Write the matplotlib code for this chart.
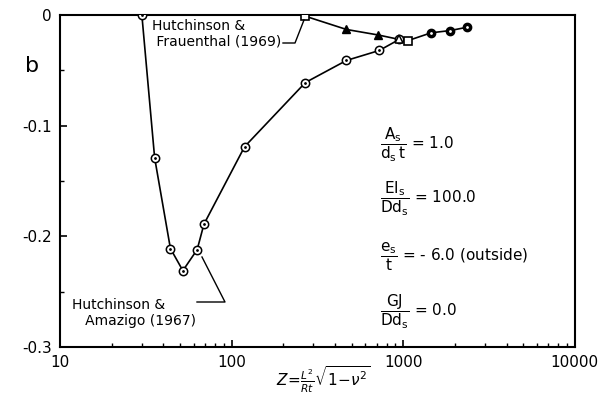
import matplotlib
matplotlib.use("Agg")
import matplotlib.pyplot as plt
import numpy as np

# Hutchinson & Amazigo (1967) branch, open circles
z_ham = [30, 35.6, 44, 52, 63, 69, 119, 269, 467, 725, 948]
b_ham = [0.0, -0.129, -0.211, -0.231, -0.212, -0.189, -0.119, -0.061, -0.041, -0.032, -0.022]

# Hutchinson & Frauenthal (1969) branch
z_hf = [269, 467, 716, 948, 1069]
b_hf = [-0.001, -0.013, -0.018, -0.022, -0.023]

# shared tail
z_tail = [1069, 1456, 1875, 2356]
b_tail = [-0.023, -0.016, -0.014, -0.011]

xticks = [10, 100, 1000, 10000]
xticklabels = ["10", "100", "1000", "10000"]
yticks = [0, -0.1, -0.2, -0.3]
yticklabels = ["0", "-0.1", "-0.2", "-0.3"]

W, H = 600, 397


def fx(px):
    return px / W


def fy(py):
    return 1 - py / H


plt.rcParams['font.family'] = ['DejaVu Sans']
plt.rcParams['mathtext.fontset'] = 'dejavusans'
fig = plt.figure(figsize=(6.0, 3.97), dpi=100)
ax = fig.add_axes([0.1, 0.126, 0.858, 0.836])

lw = 1.2
ax.plot(z_ham, b_ham, '-', color='black', lw=lw, zorder=2)
ax.plot(z_hf, b_hf, '-', color='black', lw=lw, zorder=2)
ax.plot(z_tail, b_tail, '-', color='black', lw=lw, zorder=2)

# circle markers with centre dot
ax.plot(z_ham, b_ham, 'o', ms=6, mfc='white', mec='black', mew=1.1, zorder=3)
ax.plot(z_ham, b_ham, '.', ms=2, color='black', zorder=4)
# Frauenthal markers
ax.plot(z_hf[0], b_hf[0], 's', ms=6, mfc='white', mec='black', mew=1.2, zorder=3)
ax.plot(z_hf[1:3], b_hf[1:3], '^', ms=6, mfc='black', mec='black', zorder=3)
ax.plot(z_hf[3], b_hf[3], '^', ms=6, mfc='white', mec='black', mew=1.1, zorder=5)
ax.plot(z_hf[4], b_hf[4], 's', ms=6, mfc='white', mec='black', mew=1.2, zorder=3)
ax.plot(z_tail[1:], b_tail[1:], 'o', ms=6, mfc='black', mec='black', zorder=3)
ax.plot(z_tail[1:], b_tail[1:], '.', ms=2, color='white', zorder=4)

ax.set_xscale('log')
ax.set_xlim(10, 10000)
ax.set_ylim(-0.3, 0)
ax.set_xticks(xticks)
ax.set_xticklabels(xticklabels)
ax.set_yticks(yticks)
ax.set_yticklabels(yticklabels)
ax.set_yticks([-0.05, -0.15, -0.25], minor=True)
ax.tick_params(axis='both', which='major', direction='in', length=5, width=1.2,
               labelsize=11, pad=6)
ax.tick_params(axis='both', which='minor', direction='in', length=3, width=1.0)
ax.tick_params(top=False, right=False, which='both')
for sp in ax.spines.values():
    sp.set_linewidth(1.5)

fig.text(fx(32), fy(66), 'b', fontsize=16, ha='center', va='center')

fig.text(fx(276), fy(380), r'$Z\!=\!\frac{L^2}{Rt}\sqrt{1\!-\!\nu^2}$', fontsize=11,
         ha='left', va='center')

# annotations
fig.text(fx(152), fy(34), 'Hutchinson &\n Frauenthal (1969)', fontsize=10,
         va='center', ha='left', linespacing=1.15)
fig.add_artist(plt.Line2D([fx(283), fx(295), fx(304)], [fy(43), fy(43), fy(20)],
                          color='black', lw=1.0))
fig.text(fx(72), fy(313), 'Hutchinson &\n   Amazigo (1967)', fontsize=10,
         va='center', ha='left', linespacing=1.15)
fig.add_artist(plt.Line2D([fx(202), fx(225), fx(197)], [fy(257), fy(302), fy(302)],
                          color='black', lw=1.0))

# parameters
px = fx(380)
fs = 11
fig.text(px, fy(145), r'$\dfrac{\mathrm{A_s}}{\mathrm{d_s\,t}}$ = 1.0', fontsize=fs, va='center')
fig.text(px, fy(199), r'$\dfrac{\mathrm{EI_s}}{\mathrm{Dd_s}}$ = 100.0', fontsize=fs, va='center')
fig.text(px, fy(257), r'$\dfrac{\mathrm{e_s}}{\mathrm{t}}$ = - 6.0 (outside)', fontsize=fs, va='center')
fig.text(px, fy(312), r'$\dfrac{\mathrm{GJ}}{\mathrm{Dd_s}}$ = 0.0', fontsize=fs, va='center')

fig.savefig('out.png', dpi=100)
